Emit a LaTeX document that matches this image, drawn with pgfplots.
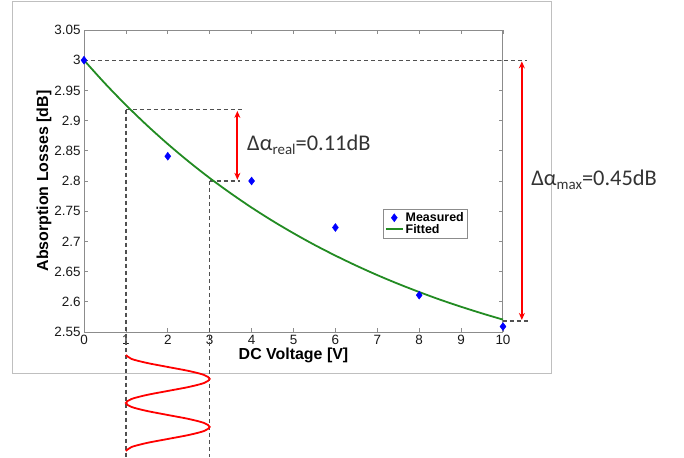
\documentclass[border=0pt]{standalone}
\usepackage{fontspec}
\setmainfont{Liberation Sans}
\newfontfamily\calfont{Carlito}
\usepackage{pgfplots}
\pgfplotsset{compat=1.18}
\usetikzlibrary{arrows.meta}
\definecolor{axgray}{RGB}{140,140,140}
\definecolor{dashgray}{RGB}{80,80,80}
\definecolor{fitgreen}{RGB}{34,139,34}
\definecolor{mblue}{RGB}{0,0,255}
\newcommand{\subt}[1]{\raisebox{-4bp}{\fontsize{15}{15}\selectfont #1}}
\begin{document}
\begin{tikzpicture}
\begin{axis}[
  scale only axis, width=419bp, height=302bp,
  xmin=0, xmax=10, ymin=2.55, ymax=3.05,
  xtick={0,1,2,3,4,5,6,7,8,9,10},
  ytick={2.55,2.6,2.65,2.7,2.75,2.8,2.85,2.9,2.95,3,3.05},
  yticklabels={2.55,2.6,2.65,2.7,2.75,2.8,2.85,2.9,2.95,3,3.05},
  xticklabels={0,1,2,3,4,5,6,7,8,9,10},
  tick align=inside,
  major tick length=4bp,
  axis line style={axgray, line width=1bp},
  tick style={axgray, line width=0.8bp},
  clip=false,
  tick label style={font=\fontsize{13.5}{15}\selectfont, text=black!90},
  label style={font=\bfseries\fontsize{16}{18}\selectfont},
  xlabel={DC Voltage [V]},
  ylabel={Absorption Losses [dB]},
  xlabel style={yshift=4bp},
  ylabel style={yshift=-4bp},
  legend style={at={(axis cs:7.14,2.754)}, anchor=north west,
    font=\bfseries\fontsize{12.5}{13}\selectfont, draw=axgray,
    inner sep=1.5bp, row sep=-3bp, cells={anchor=west}},
  legend cell align=left,
]
% figure frame
\draw[black!25, line width=1bp] (axis cs:-1.695,2.482) rectangle (axis cs:11.147,3.0964);
% dashed guide lines
\draw[dashgray, line width=1.3bp, dash pattern=on 4bp off 3bp] (axis cs:0,3.0) -- (axis cs:10.57,3.0);
\draw[dashgray, line width=1.3bp, dash pattern=on 4bp off 3bp] (axis cs:10,2.568) -- (axis cs:10.6,2.568);
\draw[dashgray, line width=1.3bp, dash pattern=on 4bp off 3bp] (axis cs:1,2.918) -- (axis cs:3.84,2.918);
\draw[dashgray, line width=1.3bp, dash pattern=on 4bp off 3bp] (axis cs:3,2.80) -- (axis cs:3.72,2.80);
\draw[dashgray, line width=1.3bp, dash pattern=on 4bp off 3bp] (axis cs:1,2.918) -- (axis cs:1,2.343);
\draw[dashgray, line width=1.3bp, dash pattern=on 4bp off 3bp] (axis cs:3,2.80) -- (axis cs:3,2.343);
% red arrows
\draw[red, line width=2bp, {Stealth[length=7bp,width=6bp]}-{Stealth[length=7bp,width=6bp]}] (axis cs:10.45,2.998) -- (axis cs:10.45,2.570);
\draw[red, line width=2bp, {Stealth[length=7bp,width=6bp]}-{Stealth[length=7bp,width=6bp]}] (axis cs:3.66,2.916) -- (axis cs:3.66,2.802);
% annotations
\node[anchor=west, inner sep=0pt, font=\calfont\fontsize{22.5}{24}\selectfont, text=black!80] at (axis cs:3.89,2.860) {Δα\subt{real}=0.11dB};
\node[anchor=west, inner sep=0pt, font=\calfont\fontsize{22.5}{24}\selectfont, text=black!80] at (axis cs:10.67,2.802) {Δα\subt{max}=0.45dB};
% sinusoid below
\addplot[red, line width=1.8bp, smooth, forget plot] coordinates {
(1.000,2.5120) (1.134,2.5054) (1.500,2.4988) (2.000,2.4921) (2.500,2.4855) (2.866,2.4789) (3.000,2.4723)
(2.866,2.4656) (2.500,2.4590) (2.000,2.4524) (1.500,2.4458) (1.134,2.4391) (1.000,2.4325)
(1.134,2.4259) (1.500,2.4193) (2.000,2.4126) (2.500,2.4060) (2.866,2.3994) (3.000,2.3928)
(2.866,2.3861) (2.500,2.3795) (2.000,2.3729) (1.500,2.3663) (1.134,2.3596) (1.000,2.3530)};
% data
\addplot[only marks, mark=diamond*, mark size=4bp, mblue, mark options={fill=mblue, draw=mblue}] coordinates {
(0,3.000) (2,2.841) (4,2.800) (6,2.723) (8,2.611) (10,2.559)};
\addlegendentry{Measured}
\addplot[fitgreen, line width=1.8bp, smooth, no marks] coordinates {
(0,3.0000) (0.5,2.9616) (1,2.9258) (1.5,2.8924) (2,2.8612) (2.5,2.8321) (3,2.8049)
(3.5,2.7797) (4,2.7560) (4.5,2.7340) (5,2.7135) (5.5,2.6943) (6,2.6765) (6.5,2.6598)
(7,2.6442) (7.5,2.6297) (8,2.6162) (8.5,2.6035) (9,2.5918) (9.5,2.5808) (10,2.5705)};
\addlegendentry{Fitted}
\coordinate (bbA) at (axis cs:-2.005,2.343);
\coordinate (bbB) at (axis cs:14.32,3.0997);
\end{axis}
\pgfresetboundingbox
\path[use as bounding box] (bbA) rectangle (bbB);
\end{tikzpicture}
\end{document}
